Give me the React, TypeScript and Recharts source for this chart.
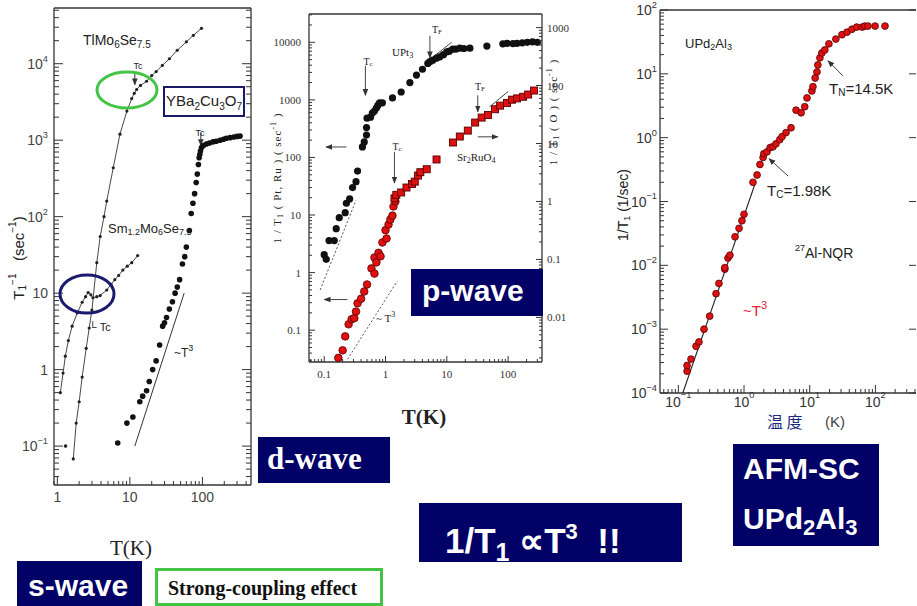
import React from "react";
import { ScatterChart, Scatter, XAxis, YAxis, ReferenceLine } from "recharts";

type Pt = [number, number];

// ---------- left panel: TlMo6Se7.5, Sm1.2Mo6Se7.5, YBa2Cu3O7 (T in K, 1/T1 in 1/sec)
const tlMo6Se75: Pt[] = [
  [1.66, 0.068], [1.82, 0.2], [2.0, 0.38], [2.2, 0.8], [2.5, 1.9], [2.75, 3.5], [3.0, 6],
  [3.5, 25], [3.9, 55], [4.4, 100], [4.8, 160], [5.9, 436], [7.3, 1200], [9.1, 2400],
  [10.6, 3500], [11.5, 4100], [12.4, 4600], [14, 5200], [17, 5900], [20, 7000], [23, 7900],
  [28, 9500], [35, 11600], [45, 15000], [60, 19300], [75, 23500], [97, 29000],
];
const sm12Mo6Se75: Pt[] = [
  [1.1, 0.5], [1.2, 0.9], [1.29, 1.5], [1.42, 2.4], [1.6, 3.7], [1.88, 5.5], [2.2, 7.6],
  [2.45, 9], [2.66, 10.2], [2.9, 9.5], [3.1, 8.7], [3.5, 9], [3.9, 9.3], [4.8, 11], [5.5, 13],
  [6.2, 15], [7, 17], [8, 20], [9.2, 22.5], [10.6, 25], [12.8, 31],
];
const sm12Stray: Pt[] = [[1.3, 0.1]];
const ybco: Pt[] = [
  [6.8, 0.11], [9.1, 0.2], [11, 0.24], [13.7, 0.38], [15, 0.45], [17, 0.53], [18.5, 0.7],
  [20.6, 1.0], [23, 1.3], [25.7, 2.1], [28.3, 3.7], [30, 4.1], [32, 4.8], [35, 6.2],
  [38.6, 7.7], [42, 10], [45, 12], [48.5, 15], [53, 24], [57, 30], [60, 40], [66, 66],
  [70, 110], [74, 150], [78, 200], [82, 280], [85, 360], [88, 480], [90, 590], [92, 650],
  [94, 720], [97, 800], [103, 850], [113, 890], [125, 920], [140, 950], [155, 970],
  [175, 1000], [195, 1030], [213, 1060], [240, 1080], [270, 1100], [300, 1120], [330, 1130],
];
const ybcoT3Guide: Pt[] = [[11.7, 0.1], [56, 10]];
const c1XLabels = [1, 10, 100];
const c1YLabels = [0.1, 1, 10, 100, 1000, 10000];

// ---------- middle panel: UPt3 (left axis), Sr2RuO4 (right axis)
const upt3: Pt[] = [
  [0.1, 2.05], [0.108, 1.7], [0.12, 3.6], [0.146, 3.6], [0.157, 5.8], [0.176, 9], [0.22, 11],
  [0.23, 16], [0.26, 19], [0.29, 30], [0.33, 38], [0.35, 58], [0.42, 152], [0.45, 186],
  [0.49, 245], [0.49, 330], [0.5, 480], [0.57, 500], [0.61, 590], [0.66, 640], [0.71, 720],
  [0.75, 800], [0.8, 890], [0.89, 890], [1.3, 1080], [1.8, 1370], [2.5, 2000], [3.2, 2700],
  [4.0, 3400], [4.9, 4300], [5.3, 4600], [5.9, 4900], [6.8, 5300], [7.7, 5600], [8.8, 6100],
  [10, 6800], [11, 7000], [12.5, 7600], [14, 7600], [16.3, 7900], [19, 7800], [23.8, 7900],
  [45, 8600], [82, 9400], [96, 9600], [120, 9500], [140, 9600], [170, 9800], [205, 10000],
  [250, 10200], [300, 10000],
];
const sr2ruo4Low: Pt[] = [
  [0.17, 0.002], [0.2, 0.0027], [0.22, 0.0047], [0.25, 0.0076], [0.28, 0.0093], [0.31, 0.0097],
  [0.33, 0.0126], [0.35, 0.0175], [0.4, 0.021], [0.45, 0.028], [0.5, 0.037], [0.59, 0.07],
  [0.66, 0.057], [0.66, 0.108], [0.71, 0.089], [0.77, 0.13], [0.83, 0.113], [0.89, 0.196],
  [1.0, 0.32], [1.04, 0.23], [1.12, 0.4], [1.2, 0.49], [1.3, 0.57], [1.35, 0.82], [1.45, 1.0],
];
const sr2ruo4High: Pt[] = [
  [1.4, 1.13], [1.5, 1.3], [1.8, 1.43], [2.2, 1.74], [2.7, 2.0], [3.0, 2.2], [3.4, 2.8],
  [3.7, 3.2], [4.7, 3.6], [6.8, 5.3], [12.6, 10.4], [16.3, 13.2], [22, 16.7], [29, 23],
  [37, 28], [47, 31], [61, 39], [74, 45], [96, 50], [116, 57], [140, 60], [176, 64],
  [212, 70], [265, 82],
];
const upt3T3Guide: Pt[] = [[0.086, 0.5], [0.33, 18]];
const sr2ruo4T3Guide: Pt[] = [[0.24, 0.0019], [1.55, 0.042]];
const upt3TFGuide: Pt[] = [[5.9, 5500], [12, 10000]];
const sr2ruo4TFGuide: Pt[] = [[50, 43], [100, 79]];
const c2XLabels = [0.1, 1, 10, 100];
const c2YLabels = [0.1, 1, 10, 100, 1000, 10000];
const c2Y2Labels = [0.01, 0.1, 1, 10, 100, 1000];

// ---------- right panel: UPd2Al3 27Al-NQR
const upd2al3: Pt[] = [
  [0.136, 2.2e-4], [0.136, 2.7e-4], [0.156, 3.4e-4], [0.186, 5.4e-4], [0.206, 6.3e-4],
  [0.246, 1e-3], [0.3, 1.6e-3], [0.375, 3.6e-3], [0.415, 5.2e-3], [0.51, 8.7e-3],
  [0.51, 9.2e-3], [0.57, 0.013], [0.61, 0.0144], [0.73, 0.028], [0.84, 0.038], [0.93, 0.05],
  [1.0, 0.063], [1.37, 0.2], [1.58, 0.26], [1.75, 0.38], [1.95, 0.49], [2.0, 0.56],
  [2.24, 0.6], [2.5, 0.7], [2.76, 0.72], [3.06, 0.8], [3.5, 0.93], [3.8, 1.04], [4.36, 1.2],
  [5.2, 1.43], [6.2, 2.7], [7.4, 2.45], [8.4, 3.05], [9.1, 4.2], [10.8, 5.4], [11.2, 6.3],
  [12.1, 8.6], [12.9, 10.7], [13.3, 13.8], [14.3, 17.8], [15.3, 21.2], [17, 23.7],
  [19.6, 29.5], [25, 35], [31, 41], [37, 45], [44, 50], [52, 54], [63, 54], [69, 56],
  [77, 56], [99, 56], [140, 56],
];
const upd2al3T3Fit: Pt[] = [[0.117, 1e-4], [1.5, 0.2]];
const c3XLabels = [0.1, 1, 10, 100];
const c3YLabels = [1e-4, 1e-3, 1e-2, 0.1, 1, 10, 100];

const SANS = "'Liberation Sans', Arial, sans-serif";
const SERIF = "'Liberation Serif', 'Times New Roman', serif";
const NAVY = "#000066";
const M = 4;

const rows = (pts: Pt[]) => pts.map(([t, v]) => ({ t, v }));
const isDecade = (v: number) => Math.abs(Math.log10(v) - Math.round(Math.log10(v))) < 1e-6;
const withMinors = (lo: number, hi: number) => {
  const out: number[] = [];
  for (let e = Math.floor(Math.log10(lo)); e <= Math.ceil(Math.log10(hi)); e++)
    for (let m = 1; m <= 9; m++) {
      const v = +(m * Math.pow(10, e)).toPrecision(6);
      if (v >= lo && v <= hi) out.push(v);
    }
  return out;
};

type Side = "left" | "right" | "top" | "bottom";
interface TickOpts {
  side: Side;
  major: number;
  minor: number;
  labels?: number[];
  fmt?: (v: number) => React.ReactNode;
  gap?: number;
  font?: string;
  size?: number;
  color?: string;
}

const makeTick = (o: TickOpts) => (p: any) => {
  const v = p.payload.value;
  const len = isDecade(v) ? o.major : o.minor;
  const show = o.fmt && o.labels && o.labels.some((u) => Math.abs(u - v) / u < 1e-6);
  const gap = o.gap ?? 5;
  const tp = { fontFamily: o.font, fontSize: o.size, fill: o.color ?? "#333" };
  const ls = { stroke: "#333", strokeWidth: 1 };
  if (o.side === "left") {
    const ax = p.x + M;
    return (
      <g>
        <line x1={ax} x2={ax + len} y1={p.y} y2={p.y} {...ls} />
        {show && <text x={ax - gap} y={p.y} textAnchor="end" dominantBaseline="central" {...tp}>{o.fmt!(v)}</text>}
      </g>
    );
  }
  if (o.side === "right") {
    const ax = p.x - M;
    return (
      <g>
        <line x1={ax} x2={ax - len} y1={p.y} y2={p.y} {...ls} />
        {show && <text x={ax + gap} y={p.y} textAnchor="start" dominantBaseline="central" {...tp}>{o.fmt!(v)}</text>}
      </g>
    );
  }
  if (o.side === "top") {
    const ay = p.y + M;
    return <line x1={p.x} x2={p.x} y1={ay} y2={ay + len} {...ls} />;
  }
  const ay = p.y - M;
  return (
    <g>
      <line x1={p.x} x2={p.x} y1={ay} y2={ay - len} {...ls} />
      {show && <text x={p.x} y={ay + gap} textAnchor="middle" dominantBaseline="hanging" {...tp}>{o.fmt!(v)}</text>}
    </g>
  );
};

const pow10 = (size: number, short: boolean) => (v: number) => {
  const e = Math.round(Math.log10(v));
  if (short && e === 0) return "1";
  if (short && e === 1) return "10";
  return (
    <>
      10<tspan dy={-size * 0.36} fontSize={size * 0.66}>{e < 0 ? "\u2212" + -e : e}</tspan>
    </>
  );
};
const plain = (v: number) => String(v);

const dot = (r: number, fill: string, stroke = "none") => (p: any) =>
  <circle cx={p.cx} cy={p.cy} r={r} fill={fill} stroke={stroke} strokeWidth={0.8} />;
const square = (s: number, fill: string, stroke: string) => (p: any) =>
  <rect x={p.cx - s / 2} y={p.cy - s / 2} width={s} height={s} fill={fill} stroke={stroke} strokeWidth={0.9} />;
const noMark = () => <g />;

const frame = { stroke: "#333", strokeWidth: 1.3 };
const axisCommon = {
  type: "number" as const,
  scale: "log" as const,
  allowDataOverflow: true,
  interval: 0,
  tickSize: 0,
  tickMargin: M,
  tickLine: false,
  axisLine: frame,
};

const seg = (a: Pt, b: Pt) => [{ x: a[0], y: a[1] }, { x: b[0], y: b[1] }];

function LeftPanel() {
  const xd: [number, number] = [0.9, 467];
  const yd: [number, number] = [0.031, 53500];
  const xt = withMinors(xd[0], xd[1]);
  const yt = withMinors(yd[0], yd[1]);
  const lab = { font: SANS, size: 14, color: "#444" };
  return (
    <ScatterChart width={270} height={520} margin={{ top: 4, right: 9, bottom: 5, left: 0 }}>
      <XAxis xAxisId="b" dataKey="t" {...axisCommon} domain={xd} ticks={xt} height={30}
        tick={makeTick({ side: "bottom", major: 8, minor: 4, labels: c1XLabels, fmt: plain, gap: 7, ...lab })} />
      <XAxis xAxisId="t" orientation="top" {...axisCommon} domain={xd} ticks={xt} height={4}
        tick={makeTick({ side: "top", major: 8, minor: 4 })} />
      <YAxis yAxisId="l" dataKey="v" {...axisCommon} domain={yd} ticks={yt} width={54}
        tick={makeTick({ side: "left", major: 9, minor: 5, labels: c1YLabels, fmt: pow10(14, true), gap: 6, ...lab })} />
      <YAxis yAxisId="r" orientation="right" {...axisCommon} domain={yd} ticks={yt} width={10}
        tick={makeTick({ side: "right", major: 9, minor: 5 })} />
      <Scatter xAxisId="b" yAxisId="l" data={rows(ybcoT3Guide)} shape={noMark} line={{ stroke: "#333", strokeWidth: 1 }} isAnimationActive={false} />
      <Scatter xAxisId="b" yAxisId="l" data={rows(tlMo6Se75)} shape={dot(1.6, "#222")} line={{ stroke: "#333", strokeWidth: 0.9 }} isAnimationActive={false} />
      <Scatter xAxisId="b" yAxisId="l" data={rows(sm12Mo6Se75)} shape={dot(1.6, "#222")} line={{ stroke: "#333", strokeWidth: 0.9 }} isAnimationActive={false} />
      <Scatter xAxisId="b" yAxisId="l" data={rows(sm12Stray)} shape={dot(1.8, "#222")} isAnimationActive={false} />
      <Scatter xAxisId="b" yAxisId="l" data={rows(ybco)} shape={dot(2.8, "#111")} isAnimationActive={false} />
      <ReferenceLine xAxisId="b" yAxisId="l" segment={seg([11.7, 7400], [11.7, 5300])} stroke="#333" markerEnd="url(#arrowHead)" />
      <ReferenceLine xAxisId="b" yAxisId="l" segment={seg([95, 1250], [95, 850])} stroke="#333" markerEnd="url(#arrowHead)" />
    </ScatterChart>
  );
}

function MiddlePanel() {
  const xd: [number, number] = [0.0565, 357];
  const yd: [number, number] = [0.028, 31000];
  const y2d: [number, number] = [0.0017, 1715];
  const xt = withMinors(xd[0], xd[1]);
  const lab = { font: SERIF, size: 11, color: "#333" };
  const arrow = { stroke: "#444", strokeWidth: 1, markerEnd: "url(#arrowHead)" };
  return (
    <ScatterChart width={320} height={400} margin={{ top: 10, right: 0, bottom: 8, left: 0 }}>
      <XAxis xAxisId="b" dataKey="t" {...axisCommon} domain={xd} ticks={xt} height={30}
        tick={makeTick({ side: "bottom", major: 6, minor: 3, labels: c2XLabels, fmt: plain, gap: 8, ...lab })} />
      <XAxis xAxisId="t" orientation="top" {...axisCommon} domain={xd} ticks={xt} height={4}
        tick={makeTick({ side: "top", major: 6, minor: 3 })} />
      <YAxis yAxisId="l" dataKey="v" {...axisCommon} domain={yd} ticks={withMinors(yd[0], yd[1])} width={49}
        tick={makeTick({ side: "left", major: 6, minor: 3, labels: c2YLabels, fmt: plain, gap: 8, ...lab })} />
      <YAxis yAxisId="r" orientation="right" dataKey="v" {...axisCommon} domain={y2d} ticks={withMinors(y2d[0], y2d[1])} width={38}
        tick={makeTick({ side: "right", major: 6, minor: 3, labels: c2Y2Labels, fmt: plain, gap: 5, ...lab })} />
      <Scatter xAxisId="b" yAxisId="l" data={rows(upt3T3Guide)} shape={noMark} line={{ stroke: "#555", strokeWidth: 1, strokeDasharray: "2 2" }} isAnimationActive={false} />
      <Scatter xAxisId="b" yAxisId="r" data={rows(sr2ruo4T3Guide)} shape={noMark} line={{ stroke: "#555", strokeWidth: 1, strokeDasharray: "2 2" }} isAnimationActive={false} />
      <Scatter xAxisId="b" yAxisId="l" data={rows(upt3TFGuide)} shape={noMark} line={{ stroke: "#444", strokeWidth: 1 }} isAnimationActive={false} />
      <Scatter xAxisId="b" yAxisId="r" data={rows(sr2ruo4TFGuide)} shape={noMark} line={{ stroke: "#444", strokeWidth: 1 }} isAnimationActive={false} />
      <Scatter xAxisId="b" yAxisId="l" data={rows(upt3)} shape={dot(3.6, "#111")} isAnimationActive={false} />
      <Scatter xAxisId="b" yAxisId="r" data={rows(sr2ruo4Low)} shape={dot(3.8, "#e01010", "#500")} isAnimationActive={false} />
      <Scatter xAxisId="b" yAxisId="r" data={rows(sr2ruo4High)} shape={square(7, "#e01010", "#500")} isAnimationActive={false} />
      <ReferenceLine xAxisId="b" yAxisId="l" segment={seg([0.47, 3900], [0.47, 1200])} {...arrow} />
      <ReferenceLine xAxisId="b" yAxisId="l" segment={seg([5.3, 13000], [5.3, 5400])} {...arrow} />
      <ReferenceLine xAxisId="b" yAxisId="l" segment={seg([1.4, 125], [1.4, 36])} {...arrow} />
      <ReferenceLine xAxisId="b" yAxisId="l" segment={seg([32, 1200], [32, 620])} {...arrow} />
      <ReferenceLine xAxisId="b" yAxisId="l" segment={seg([0.23, 152], [0.107, 152])} {...arrow} />
      <ReferenceLine xAxisId="b" yAxisId="l" segment={seg([32, 228], [68, 228])} {...arrow} />
      <ReferenceLine xAxisId="b" yAxisId="l" segment={seg([0.24, 0.34], [0.1, 0.34])} {...arrow} />
    </ScatterChart>
  );
}

function RightPanel() {
  const xd: [number, number] = [0.0526, 415];
  const yd: [number, number] = [1e-4, 100];
  const xt = withMinors(xd[0], xd[1]);
  const yt = withMinors(yd[0], yd[1]);
  const lab = { font: SANS, size: 14, color: "#333" };
  const arrow = { stroke: "#444", strokeWidth: 1, markerEnd: "url(#arrowHead)" };
  return (
    <ScatterChart width={317} height={430} margin={{ top: 6, right: 0, bottom: 7, left: 0 }}>
      <XAxis xAxisId="b" dataKey="t" {...axisCommon} domain={xd} ticks={xt} height={30}
        tick={makeTick({ side: "bottom", major: 8, minor: 4, labels: c3XLabels, fmt: pow10(14, false), gap: 4, ...lab })} />
      <XAxis xAxisId="t" orientation="top" {...axisCommon} domain={xd} ticks={xt} height={4}
        tick={makeTick({ side: "top", major: 8, minor: 4 })} />
      <YAxis yAxisId="l" dataKey="v" {...axisCommon} domain={yd} ticks={yt} width={60}
        tick={makeTick({ side: "left", major: 8, minor: 4, labels: c3YLabels, fmt: pow10(14, false), gap: 3, ...lab })} />
      <YAxis yAxisId="r" orientation="right" {...axisCommon} axisLine={false} domain={yd} ticks={c3YLabels} width={1}
        tick={makeTick({ side: "right", major: 7, minor: 4 })} />
      <Scatter xAxisId="b" yAxisId="l" data={rows(upd2al3T3Fit)} shape={noMark} line={{ stroke: "#222", strokeWidth: 1.1 }} isAnimationActive={false} />
      <Scatter xAxisId="b" yAxisId="l" data={rows(upd2al3)} shape={dot(3.4, "#dd1111", "#550000")} isAnimationActive={false} />
      <ReferenceLine xAxisId="b" yAxisId="l" segment={seg([32, 9.3], [19, 16])} {...arrow} />
      <ReferenceLine xAxisId="b" yAxisId="l" segment={seg([4.7, 0.25], [2.4, 0.47])} {...arrow} />
    </ScatterChart>
  );
}

const abs = (left: number, top: number): React.CSSProperties => ({ position: "absolute", left, top });
const navyBox = (left: number, top: number, width: number, height: number): React.CSSProperties => ({
  position: "absolute", left, top, width, height, background: NAVY, color: "#fff", boxSizing: "border-box",
});

export default function App() {
  const t = (x: number, y: number, size: number, font: string, anchor: "start" | "middle" | "end" = "middle") =>
    ({ x, y, fontSize: size, fontFamily: font, textAnchor: anchor, dominantBaseline: "central" as const, fill: "#222" });
  return (
    <div style={{ position: "absolute", left: 0, top: 0, width: 917, height: 606, overflow: "hidden", background: "#fff" }}>
      <svg width={0} height={0} style={{ position: "absolute" }}>
        <defs>
          <marker id="arrowHead" viewBox="0 0 10 10" refX={9} refY={5} markerWidth={7} markerHeight={7} orient="auto">
            <path d="M0,1 L10,5 L0,9 z" fill="#333" />
          </marker>
        </defs>
      </svg>
      <div style={abs(0, 0)}><LeftPanel /></div>
      <div style={abs(260, 0)}><MiddlePanel /></div>
      <div style={abs(600, 0)}><RightPanel /></div>

      <svg width={917} height={606} style={{ position: "absolute", left: 0, top: 0, pointerEvents: "none" }}>
        {/* left panel labels */}
        <text {...t(83, 40, 14, SANS, "start")}>TlMo<tspan dy={4} fontSize={10}>6</tspan><tspan dy={-4}>Se</tspan><tspan dy={4} fontSize={10}>7.5</tspan></text>
        <text {...t(108, 228, 13, SANS, "start")}>Sm<tspan dy={4} fontSize={9}>1.2</tspan><tspan dy={-4}>Mo</tspan><tspan dy={4} fontSize={9}>6</tspan><tspan dy={-4}>Se</tspan><tspan dy={4} fontSize={9}>7.5</tspan></text>
        <text {...t(138, 66, 9, SANS)}>Tc</text>
        <text {...t(200, 133, 9, SANS)}>Tc</text>
        <text {...t(89, 327, 11, SANS, "start")}>└ Tc</text>
        <text {...t(174, 353, 12, SANS, "start")}>~T<tspan dy={-5} fontSize={9}>3</tspan></text>
        <text transform="translate(18,258) rotate(-90)" {...t(0, 0, 15, SANS)}>
          T<tspan dy={4} fontSize={10}>1</tspan><tspan dy={-10} fontSize={10}>−1</tspan><tspan dy={6}>{"\u00a0\u00a0\u00a0(sec"}</tspan><tspan dy={-6} fontSize={10}>−1</tspan><tspan dy={6}>)</tspan>
        </text>
        <ellipse cx={127} cy={90} rx={30} ry={18} fill="none" stroke="#44c444" strokeWidth={3} />
        <ellipse cx={87} cy={294} rx={27} ry={19} fill="none" stroke="#1a1a6e" strokeWidth={3} />
        <text {...t(131, 548, 21, SERIF)}>T(K)</text>

        {/* middle panel labels */}
        <text {...t(392, 52, 11, SERIF, "start")}>UPt<tspan dy={3} fontSize={8}>3</tspan></text>
        <text {...t(368, 61, 10, SERIF)}>T<tspan dy={3} fontSize={7}>c</tspan></text>
        <text {...t(437, 29, 10, SERIF)}>T<tspan dy={3} fontSize={7}>F</tspan></text>
        <text {...t(397, 146, 10, SERIF)}>T<tspan dy={3} fontSize={7}>c</tspan></text>
        <text {...t(480, 86, 10, SERIF)}>T<tspan dy={3} fontSize={7}>F</tspan></text>
        <text {...t(457, 157, 11, SERIF, "start")}>Sr<tspan dy={3} fontSize={8}>2</tspan><tspan dy={-3}>RuO</tspan><tspan dy={3} fontSize={8}>4</tspan></text>
        <text {...t(376, 318, 11, SERIF, "start")}>~ T<tspan dy={-4} fontSize={8}>3</tspan></text>
        <text transform="translate(277,178) rotate(-90)" {...t(0, 0, 11, SERIF)} letterSpacing={1}>
          1 / T<tspan dy={3} fontSize={8}>1</tspan><tspan dy={-3}> ( Pt, Ru )  ( sec</tspan><tspan dy={-4} fontSize={8}>-1</tspan><tspan dy={4}> )</tspan>
        </text>
        <text transform="translate(553,112) rotate(-90)" {...t(0, 0, 11, SERIF)} letterSpacing={1}>
          1 / T<tspan dy={3} fontSize={8}>1</tspan><tspan dy={-3}> ( O )  ( sec</tspan><tspan dy={-4} fontSize={8}>-1</tspan><tspan dy={4}> )</tspan>
        </text>
        <text {...t(424, 417, 21, SERIF)} fontWeight="bold">T(K)</text>

        {/* right panel labels */}
        <text {...t(685, 43, 13, SANS, "start")}>UPd<tspan dy={4} fontSize={9}>2</tspan><tspan dy={-4}>Al</tspan><tspan dy={4} fontSize={9}>3</tspan></text>
        <text {...t(829, 88, 15, SANS, "start")}>T<tspan dy={4} fontSize={10}>N</tspan><tspan dy={-4}>=14.5K</tspan></text>
        <text {...t(767, 190, 15, SANS, "start")}>T<tspan dy={4} fontSize={10}>C</tspan><tspan dy={-4}>=1.98K</tspan></text>
        <text {...t(795, 253, 14, SANS, "start")}><tspan dy={-5} fontSize={9}>27</tspan><tspan dy={5}>Al-NQR</tspan></text>
        <text {...t(743, 310, 15, SANS, "start")} fill="#e0203a">~T<tspan dy={-5} fontSize={11}>3</tspan></text>
        <text transform="translate(623,205) rotate(-90)" {...t(0, 0, 14, SANS)}>
          1/T<tspan dy={4} fontSize={9}>1</tspan><tspan dy={-4}>{"\u00a0(1/sec)"}</tspan>
        </text>
        <text {...t(767, 421, 16, "'Noto Sans CJK SC', sans-serif", "start")} fill="#1c2a80">温 度</text>
        <text {...t(825, 421, 15, SANS, "start")} fill="#444">(K)</text>
      </svg>

      <div style={{ position: "absolute", left: 163, top: 86, width: 82, height: 31, border: "2.5px solid #1a1a66", background: "#fff", boxSizing: "border-box", fontFamily: SANS, fontSize: 15, color: "#222", display: "flex", alignItems: "center", justifyContent: "center" }}>
        <span>YBa<sub style={{ fontSize: 10 }}>2</sub>Cu<sub style={{ fontSize: 10 }}>3</sub>O<sub style={{ fontSize: 10 }}>7</sub></span>
      </div>

      <div style={{ ...navyBox(411, 269, 132, 47), fontFamily: SANS, fontWeight: "bold", fontSize: 30, lineHeight: "44px", paddingLeft: 11 }}>p-wave</div>
      <div style={{ ...navyBox(258, 437, 132, 46), fontFamily: SERIF, fontWeight: "bold", fontSize: 31, lineHeight: "44px", paddingLeft: 9 }}>d-wave</div>
      <div style={{ ...navyBox(17, 561, 125, 45), fontFamily: SANS, fontWeight: "bold", fontSize: 30, lineHeight: "50px", paddingLeft: 11 }}>s-wave</div>
      <div style={{ position: "absolute", left: 155, top: 568, width: 228, height: 38, border: "3px solid #44c444", boxSizing: "border-box", fontFamily: SERIF, fontWeight: "bold", fontSize: 20, lineHeight: "34px", paddingLeft: 10, color: "#111" }}>Strong-coupling effect</div>
      <div style={{ ...navyBox(419, 503, 263, 59), fontFamily: SANS, fontWeight: "bold", fontSize: 35, lineHeight: "58px", paddingLeft: 26, whiteSpace: "nowrap" }}>
        1/T<sub style={{ fontSize: 25, verticalAlign: "-8px" }}>1</sub>{" "}∝T<sup style={{ fontSize: 22, verticalAlign: "14px" }}>3</sup>{"\u00a0\u00a0"}!!
      </div>
      <div style={{ ...navyBox(733, 444, 146, 102), fontFamily: SANS, fontWeight: "bold", fontSize: 30, paddingLeft: 10, lineHeight: "50px" }}>
        <div>AFM-SC</div>
        <div>UPd<sub style={{ fontSize: 22, verticalAlign: "-6px" }}>2</sub>Al<sub style={{ fontSize: 22, verticalAlign: "-6px" }}>3</sub></div>
      </div>
    </div>
  );
}
